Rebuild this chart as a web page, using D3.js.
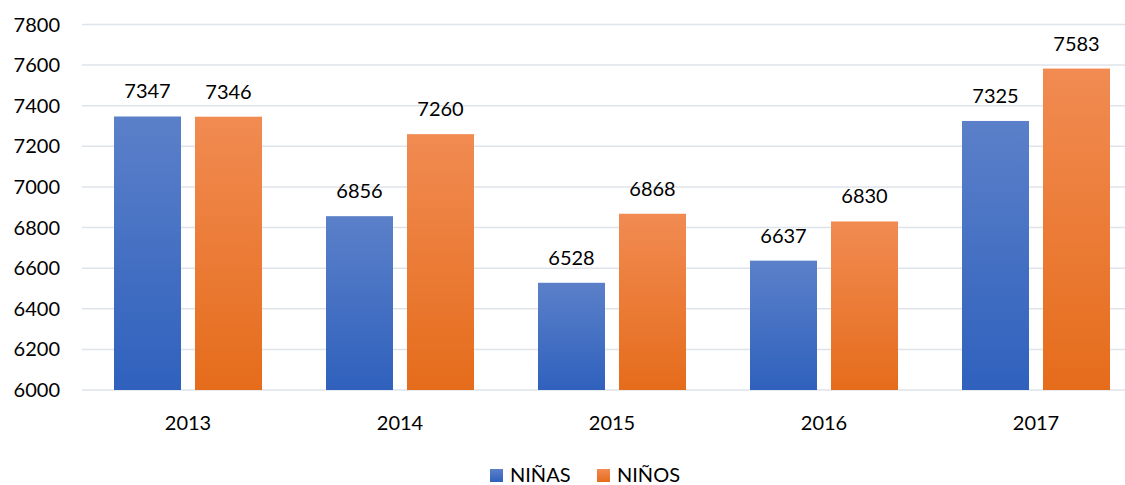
<!doctype html>
<html>
<head>
<meta charset="utf-8">
<script src="https://d3js.org/d3.v7.min.js"></script>
<style>
  body { margin: 0; background: #fff; }
  text { font-family: Lato, "Open Sans", sans-serif; fill: #000; }
</style>
</head>
<body>
<svg id="chart" width="1125" height="485"></svg>
<script>
var years = ['2013', '2014', '2015', '2016', '2017'];
var series = ['NIÑAS', 'NIÑOS'];
var ninas = [7347, 6856, 6528, 6637, 7325];
var ninos = [7346, 7260, 6868, 6830, 7583];
var yTicks = [6000, 6200, 6400, 6600, 6800, 7000, 7200, 7400, 7600, 7800];

var colors = {
    'NIÑAS': ['#5b80c9', '#2f61bd'],
    'NIÑOS': ['#f18b52', '#e56c1b']
};

var svg = d3.select('#chart');

var x = d3.scaleBand().domain(years).range([82, 1142]);
var x1 = d3.scaleBand().domain(series).range([32, 180]).paddingInner(14 / 81);
var y = d3.scaleLinear().domain([6000, 7800]).range([390, 24.5]);

// gradients
var defs = svg.append('defs');
series.forEach(function (s, i) {
    var g = defs.append('linearGradient')
        .attr('id', 'grad' + i)
        .attr('x1', 0).attr('y1', 0).attr('x2', 0).attr('y2', 1);
    g.append('stop').attr('offset', '0%').attr('stop-color', colors[s][0]);
    g.append('stop').attr('offset', '100%').attr('stop-color', colors[s][1]);
});

// grid lines
svg.append('g').selectAll('line')
    .data(yTicks)
    .enter().append('line')
    .attr('x1', 82).attr('x2', 1125)
    .attr('y1', d => y(d)).attr('y2', d => y(d))
    .attr('stroke', '#dfe3ea')
    .attr('stroke-width', 1.5);

// y labels
svg.append('g').selectAll('text')
    .data(yTicks)
    .enter().append('text')
    .attr('x', 60)
    .attr('y', d => y(d) + 7)
    .attr('text-anchor', 'end')
    .style('font-size', '20px')
    .text(d => d);

// bars
var rows = years.map(function (yr, i) {
    return { year: yr, values: [ninas[i], ninos[i]] };
});

var groups = svg.append('g').selectAll('g')
    .data(rows)
    .enter().append('g')
    .attr('transform', d => 'translate(' + x(d.year) + ',0)');

groups.selectAll('rect')
    .data(d => d.values.map((v, i) => ({ s: series[i], i: i, v: v })))
    .enter().append('rect')
    .attr('x', d => x1(d.s))
    .attr('y', d => y(d.v))
    .attr('width', x1.bandwidth())
    .attr('height', d => y(6000) - y(d.v))
    .attr('fill', d => 'url(#grad' + d.i + ')');

groups.selectAll('text.val')
    .data(d => d.values.map((v, i) => ({ s: series[i], v: v })))
    .enter().append('text')
    .attr('class', 'val')
    .attr('x', d => x1(d.s) + x1.bandwidth() / 2)
    .attr('y', d => y(d.v) - 18)
    .attr('text-anchor', 'middle')
    .style('font-size', '20px')
    .text(d => d.v);

// x labels
svg.append('g').selectAll('text')
    .data(years)
    .enter().append('text')
    .attr('x', d => x(d) + 106)
    .attr('y', 430)
    .attr('text-anchor', 'middle')
    .style('font-size', '20px')
    .text(d => d);

// legend
var legX = [490, 597];
var leg = svg.append('g').selectAll('g')
    .data(series)
    .enter().append('g')
    .attr('transform', (d, i) => 'translate(' + legX[i] + ',469)');
leg.append('rect')
    .attr('width', 13).attr('height', 13)
    .attr('fill', (d, i) => 'url(#grad' + i + ')');
leg.append('text')
    .attr('x', 20)
    .attr('y', 13)
    .style('font-size', '20px')
    .text(d => d);
</script>
</body>
</html>
